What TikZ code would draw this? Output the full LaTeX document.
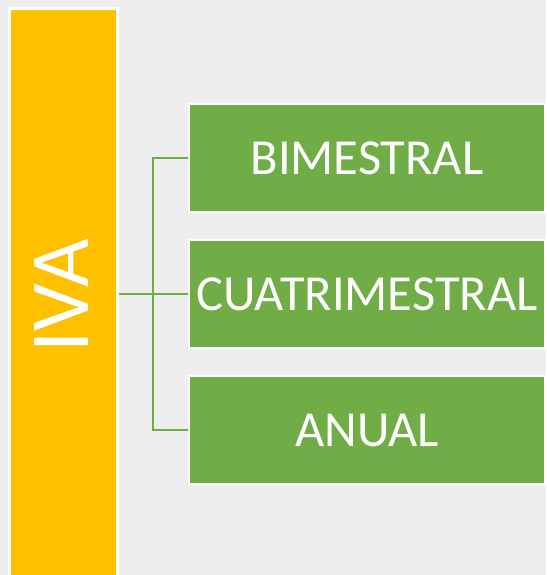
\documentclass[tikz,border=0pt]{standalone}
\usepackage{fontspec}
\setmainfont{Carlito}
\definecolor{bg}{HTML}{EEEEEE}
\definecolor{ivaorange}{HTML}{FFC000}
\definecolor{boxgreen}{HTML}{70AD47}
\begin{document}
\begin{tikzpicture}[x=1pt,y=-1pt]
\tikzset{
  greenbox/.style={draw=white, line width=2pt, fill=boxgreen, minimum width=356pt, minimum height=108pt, inner sep=0pt, text=white, font=\fontsize{50.5}{54}\selectfont},
  ivabox/.style={draw=white, line width=3pt, fill=ivaorange, minimum width=108pt, minimum height=571pt, inner sep=0pt},
  conn/.style={draw=boxgreen, line width=2.5pt}
}
\fill[bg] (0,0) rectangle (546,575);
\useasboundingbox (0,0) rectangle (546,575);
\node[ivabox] (iva) at (63.5,294) {};
\node[text=white, rotate=90, font=\fontsize{84}{90}\selectfont, inner sep=0pt] (ivatext) at (61.5,296) {IVA};
\node[greenbox] (b1) at (367,158) {BIMESTRAL};
\node[greenbox] (b2) at (367,294) {CUATRIMESTRAL};
\node[greenbox] (b3) at (367,430) {ANUAL};
\draw[conn] (iva.east) -- (b2.west);
\draw[conn] (b1.west) -- ++(-35,0) coordinate (c1) |- (b3.west);
\end{tikzpicture}
\end{document}
